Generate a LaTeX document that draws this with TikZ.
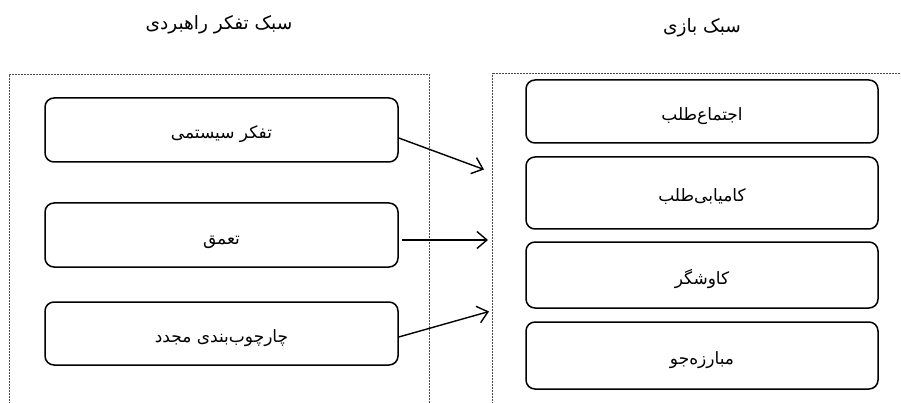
\documentclass[tikz,border=0pt]{standalone}
\usepackage{fontspec}
\newfontfamily\arabicfont[Script=Arabic]{DejaVu Sans}
\TeXXeTstate=1
\usetikzlibrary{arrows.meta}
\tikzset{
  box/.style={draw, line width=1.5pt, rounded corners=9pt, inner sep=0pt,
    text height=21pt, text depth=3pt,
    font=\arabicfont\fontsize{17}{20}\selectfont},
  lbox/.style={box, minimum width=353pt},
  rbox/.style={box, minimum width=352pt},
  title/.style={font=\arabicfont\fontsize{18.5}{22}\selectfont, inner sep=0pt},
  frame/.style={dash pattern=on 0.8pt off 0.7pt, line width=0.8pt, gray!60!black},
  link/.style={line width=1.4pt, -{Straight Barb[length=10pt,width=17pt,line width=1.4pt]}}
}
\begin{document}
\begin{tikzpicture}[x=1pt,y=-1pt]
\useasboundingbox (0,0) rectangle (901,403);
% frames
\draw[frame] (9,404) -- (9,74) -- (429,74) -- (429,404);
\draw[frame] (492,404) -- (492,73) -- (902,73);
% titles
\node[title] (tl) at (219,25) {\beginR سبک تفکر راهبردی\endR};
\node[title] (tr) at (702,28) {\beginR سبک بازی\endR};
% left boxes
\node[lbox, minimum height=64pt] (l1) at (221.5,130) {\beginR تفکر سیستمی\endR};
\node[lbox, minimum height=64pt] (l2) at (221.5,235) {\beginR تعمق\endR};
\node[lbox, minimum height=63pt] (l3) at (221.5,333.5) {\beginR چارچوب‌بندی مجدد\endR};
% right boxes
\node[rbox, minimum height=63pt] (r1) at (702,111.5) {\beginR اجتماع‌طلب\endR};
\node[rbox, minimum height=72pt] (r2) at (702,193) {\beginR کامیابی‌طلب\endR};
\node[rbox, minimum height=66pt] (r3) at (702,275) {\beginR کاوشگر\endR};
\node[rbox, minimum height=67pt] (r4) at (702,355.5) {\beginR مبارزه‌جو\endR};
% arrow ends
\coordinate (e1) at (484,169.5);
\coordinate (e2) at (488,240);
\coordinate (e3) at (489,311.5);
\draw[link] ([yshift=-8pt]l1.east) -- (e1);
\draw[link] ([xshift=3pt,yshift=-5pt]l2.east) -- (e2);
\draw[link] ([yshift=-3.5pt]l3.east) -- (e3);
\end{tikzpicture}
\end{document}
